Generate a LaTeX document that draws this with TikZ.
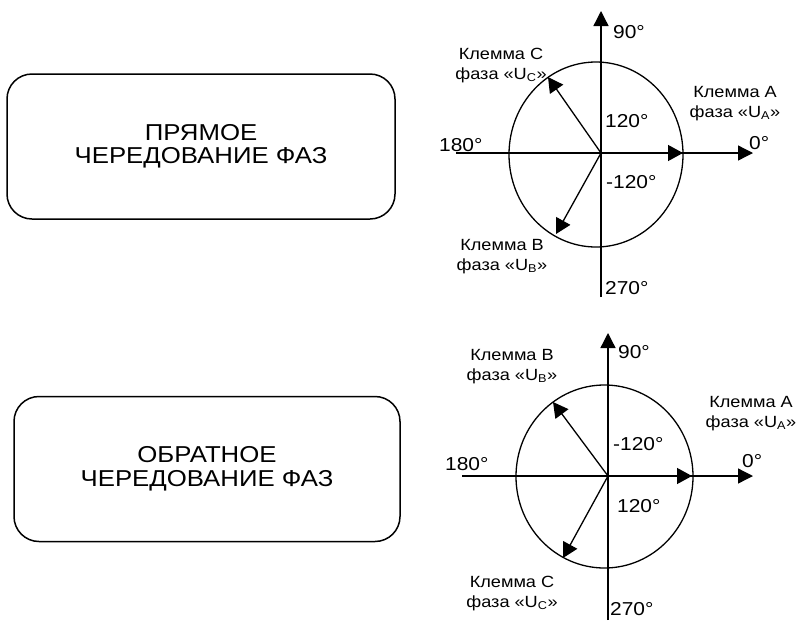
\documentclass[tikz,border=0pt]{standalone}
\usepackage{fontspec}
\setmainfont{Liberation Sans}[FakeStretch=1.12]
\usetikzlibrary{arrows.meta, positioning}
\tikzset{
    modebox/.style ={rectangle, rounded corners=25pt, minimum width=388pt, minimum height=145pt, align=center, draw=black, line width=1.5pt, font=\fontsize{23}{23.5}\selectfont},
    axisline/.style={line width=1.3pt, -{Triangle[length=15pt, width=15pt]}},
    phasor/.style  ={line width=1.3pt, -{Triangle[length=15pt, width=16pt]}},
    ring/.style    ={line width=1.3pt},
    deg/.style     ={inner sep=0pt, anchor=base west, font=\fontsize{18.7}{20}\selectfont},
    term/.style    ={inner sep=0pt, anchor=base, align=center, font=\fontsize{16.2}{20}\selectfont},
}

\begin{document}
\begin{tikzpicture}[x=1pt, y=-1pt]
    \useasboundingbox (0,0) rectangle (801,622);
    % direct rotation
    \node[modebox] (direct) at (201,146.5) {ПРЯМОЕ\\ЧЕРЕДОВАНИЕ ФАЗ};
    \coordinate (o1) at (601,153);
    \coordinate (n1) at (601,11);  \coordinate (s1) at (601,297);
    \coordinate (w1) at (456,153); \coordinate (e1) at (753,153);
    \coordinate (ua1) at (683,153); \coordinate (ub1) at (556,234); \coordinate (uc1) at (548,77);
    \draw[ring] (596,154.5) ellipse [x radius=87, y radius=92.5];
    \draw[line width=1.3pt] (s1) -- (o1);
    \draw[axisline] (o1) -- (n1);
    \draw[line width=1.3pt] (w1) -- (o1);
    \draw[axisline] (o1) -- (e1);
    \draw[phasor] (o1) -- (ua1);
    \draw[phasor] (o1) -- (ub1);
    \draw[phasor] (o1) -- (uc1);
    \node[deg] (d90a)  at (613,38)  {90°};
    \node[deg] (d120a) at (605,127) {120°};
    \node[deg] (d180a) at (439,151) {180°};
    \node[deg] (d0a)   at (749,149) {0°};
    \node[deg] (dm120a) at (606,188) {-120°};
    \node[deg] (d270a) at (605,294) {270°};
    \node[term] (tc1) at (501,79)  {Клемма C\\фаза «U\textsubscript{C}»};
    \node[term] (ta1) at (735,117) {Клемма A\\фаза «U\textsubscript{A}»};
    \node[term] (tb1) at (502,270) {Клемма B\\фаза «U\textsubscript{B}»};
    % reverse rotation
    \node[modebox, minimum width=386pt] (reverse) at (207,469) {ОБРАТНОЕ\\ЧЕРЕДОВАНИЕ ФАЗ};
    \coordinate (o2) at (608,476);
    \coordinate (n2) at (608,333); \coordinate (s2) at (608,620);
    \coordinate (w2) at (462,476); \coordinate (e2) at (753,476);
    \coordinate (ua2) at (692,476); \coordinate (ub2) at (553,402); \coordinate (uc2) at (563,558);
    \draw[ring] (604.5,476.5) ellipse [x radius=88.5, y radius=91.5];
    \draw[line width=1.3pt] (s2) -- (o2);
    \draw[axisline] (o2) -- (n2);
    \draw[line width=1.3pt] (w2) -- (o2);
    \draw[axisline] (o2) -- (e2);
    \draw[phasor] (o2) -- (ua2);
    \draw[phasor] (o2) -- (ub2);
    \draw[phasor] (o2) -- (uc2);
    \node[deg] (d90b)  at (618,358) {90°};
    \node[deg] (dm120b) at (613,450) {-120°};
    \node[deg] (d180b) at (445,470) {180°};
    \node[deg] (d0b)   at (742,467) {0°};
    \node[deg] (d120b) at (617,512) {120°};
    \node[deg] (d270b) at (610,615) {270°};
    \node[term] (tb2) at (512,380) {Клемма B\\фаза «U\textsubscript{B}»};
    \node[term] (ta2) at (751,427) {Клемма A\\фаза «U\textsubscript{A}»};
    \node[term] (tc2) at (512,607) {Клемма C\\фаза «U\textsubscript{C}»};
\end{tikzpicture}
\end{document}
